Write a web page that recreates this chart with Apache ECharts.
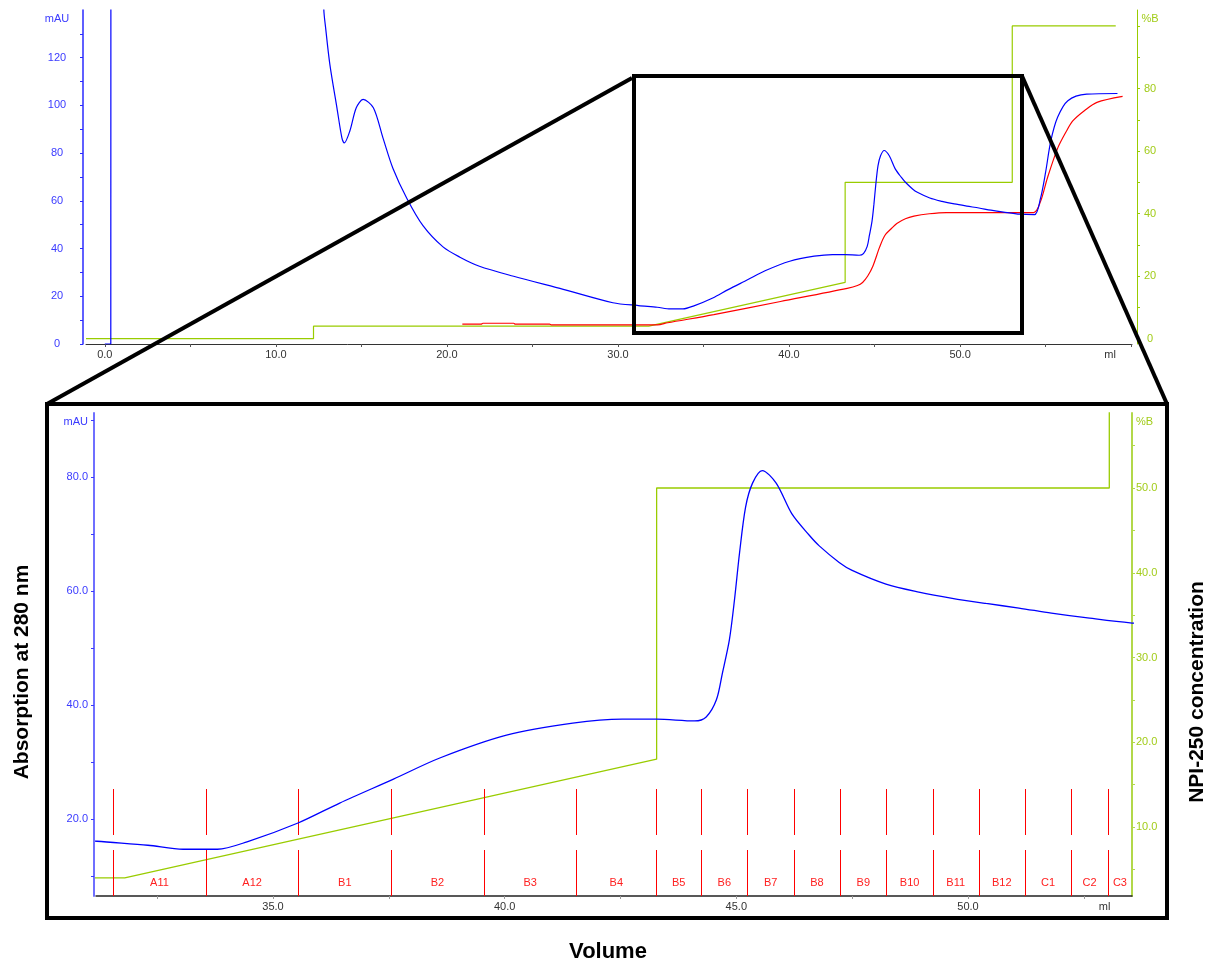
<!DOCTYPE html>
<html><head><meta charset="utf-8">
<script src="https://cdn.jsdelivr.net/npm/echarts@6/dist/echarts.min.js"></script>
<style>html,body{margin:0;padding:0;background:#fff}#c{width:1217px;height:964px}</style>
</head><body><div id="c"></div>
<script>
// UV absorbance at 280 nm (mAU) vs volume (ml)
const uvMl  = [0.0,0.35,0.45,12.7,12.8,12.92,13.16,13.57,13.86,14.0,14.33,14.7,15.1,15.7,16.26,16.84,17.66,18.6,19.77,20.76,21.9,23.9,26.8,29.7,31.2,32.3,33.06,33.8,34.44,35.54,36.44,37.6,38.6,40.04,41.47,42.54,43.28,44.1,44.35,44.57,44.7,44.85,44.96,45.07,45.2,45.35,45.56,45.86,46.2,46.57,46.79,47.22,47.5,48.23,48.94,49.66,50.39,51.1,51.8,52.54,53.5,54.35,54.7,55.0,55.3,55.7,56.3,57.4,59.2];
const uvMau = [0,0,3000,3000,141,131.8,117,99,86.4,84.3,89.4,99,102.5,99,86.4,73.7,61,49.6,40.7,36.4,32.6,28.4,22.9,17.3,16.1,15.4,14.7,14.7,16.0,19.3,22.8,27.0,30.7,34.7,36.8,37.5,37.5,37.2,37.9,40.9,45.6,51.4,58.4,66.7,74.7,78.9,81.1,78.9,73.5,69.8,67.9,65.0,63.6,61.2,59.8,58.7,57.8,57.0,56.1,55.3,54.4,54.2,61,72,85,95,102,104.7,105];
// Conductivity trace (drawn on mAU scale)
const condMl  = [20.9,22.0,22.1,23.9,24.0,26.0,26.1,32.3,32.9,35.6,39.5,43.4,44.0,44.3,44.6,44.9,45.3,45.6,46.0,46.3,46.8,47.3,48.2,49.2,54.3,54.7,55.1,55.7,56.2,56.6,57.3,58.0,59.5];
const condVal = [8.3,8.3,8.7,8.7,8.3,8.3,8.0,8.0,8.9,12.3,17.8,23.3,24.5,25.8,28.5,32.6,40.7,45.5,48.5,50.5,52.5,53.6,54.6,55.1,55.1,59.7,69.5,82,89,93.6,98,101.3,103.8];
// Gradient %B
const gradMl  = [-1.1,12.2,12.2,31.8,43.28,43.28,53.05,53.05,59.1];
const gradPct = [0,0,4,4,18,50,50,100,100];
// Fractions
const fracStart = [31.55,33.55,35.55,37.55,39.55,41.55,43.27,44.24,45.24,46.24,47.24,48.24,49.24,50.23,51.23,52.23,53.02];
const fracLabel = ['A11','A12','B1','B2','B3','B4','B5','B6','B7','B8','B9','B10','B11','B12','C1','C2','C3'];
// Tick / label values
const topXLabels = [0,10,20,30,40,50];
const topYLabels = [0,20,40,60,80,100,120];
const topRLabels = [0,20,40,60,80];
const botXLabels = [35,40,45,50];
const botYLabels = [20,40,60,80];
const botRLabels = [10,20,30,40,50];

const TX = [-1.1, 60.05], TY = [0, 140], TR = [-1.7, 105.1];
const BX = [31.18, 53.54], BY = [6.5, 91.2], BR = [1.86, 58.85];

const zip = (a, b) => a.map((v, i) => [v, b[i]]);
const range = (a, b, s) => { const r = []; for (let v = a; v <= b + 1e-9; v += s) r.push(+v.toFixed(3)); return r; };
const FONT = 'Liberation Sans, Arial, sans-serif';
const BLUE = '#0000ff', RED = '#ff0000', GREEN = '#99cc00';

const fracData = fracStart.map((s, i) => [s, i + 1 < fracStart.length ? fracStart[i + 1] : BX[1]]);

function renderFrac(params, api) {
  const cs = params.coordSys;
  const bottom = cs.y + cs.height;
  const p0 = api.coord([api.value(0), BY[0]]);
  const p1 = api.coord([api.value(1), BY[0]]);
  const x = Math.round(p0[0]) + 0.5;
  const mid = (p0[0] + p1[0]) / 2;
  return { type: 'group', children: [
    { type: 'line', shape: { x1: x, y1: bottom - 107, x2: x, y2: bottom - 61 }, style: { stroke: RED, lineWidth: 1 } },
    { type: 'line', shape: { x1: x, y1: bottom - 46, x2: x, y2: bottom }, style: { stroke: RED, lineWidth: 1 } },
    { type: 'text', x: mid, y: bottom - 13, style: { text: fracLabel[params.dataIndex], fill: '#ff2020', font: '11px ' + FONT, textAlign: 'center', textVerticalAlign: 'middle' } }
  ]};
}

const lineCommon = { showSymbol: false, symbol: 'none', smooth: 0.3 };

const chart = echarts.init(document.getElementById('c'), null, { renderer: 'canvas' });
chart.setOption({
  backgroundColor: '#fff',
  animation: false,
  grid: [
    { left: 86, right: 85, top: 10, bottom: 620 },
    { left: 96, right: 85, top: 413, bottom: 68 }
  ],
  xAxis: [
    { type: 'value', gridIndex: 0, min: TX[0], max: TX[1], splitLine: { show: false },
      axisLine: { onZero: false, lineStyle: { color: '#333', width: 1 } },
      axisTick: { customValues: range(0, 60, 5), length: 3, lineStyle: { color: '#555' } },
      axisLabel: { customValues: topXLabels.concat([58.77]), formatter: v => v > 55 ? 'ml' : v.toFixed(1), color: '#333', fontSize: 11, fontFamily: FONT, margin: 5 } },
    { type: 'value', gridIndex: 1, min: BX[0], max: BX[1], splitLine: { show: false },
      axisLine: { onZero: false, lineStyle: { color: '#222', width: 1.5 } },
      axisTick: { customValues: range(32.5, 52.5, 2.5), length: 3, lineStyle: { color: '#999' } },
      axisLabel: { customValues: botXLabels.concat([52.95]), formatter: v => v > 52 ? 'ml' : v.toFixed(1), color: '#333', fontSize: 11, fontFamily: FONT, margin: 5 } }
  ],
  yAxis: [
    { type: 'value', gridIndex: 0, min: TY[0], max: TY[1], offset: 3, splitLine: { show: false },
      axisLine: { show: true, onZero: false, lineStyle: { color: '#2a2aff', width: 1.5 } },
      axisTick: { customValues: range(0, 130, 10), length: 3, lineStyle: { color: '#2a2aff' } },
      axisLabel: { customValues: topYLabels.concat([136.2]), formatter: v => v > 130 ? 'mAU' : String(v), color: '#3a3aff', fontSize: 11, fontFamily: FONT, align: 'center', margin: 26 } },
    { type: 'value', gridIndex: 0, position: 'right', min: TR[0], max: TR[1], offset: 5, splitLine: { show: false },
      axisLine: { show: true, onZero: false, lineStyle: { color: GREEN, width: 1 } },
      axisTick: { customValues: range(0, 100, 10), length: 3, lineStyle: { color: GREEN } },
      axisLabel: { customValues: topRLabels.concat([102.2]), formatter: v => v > 100 ? '%B' : String(v), color: '#a2cc1a', fontSize: 11, fontFamily: FONT, align: 'center', margin: 13 } },
    { type: 'value', gridIndex: 1, min: BY[0], max: BY[1], offset: 2, splitLine: { show: false },
      axisLine: { show: true, onZero: false, lineStyle: { color: '#6f6fff', width: 2 } },
      axisTick: { customValues: range(10, 90, 10), length: 3, lineStyle: { color: '#3a3aff' } },
      axisLabel: { customValues: botYLabels.concat([89.6]), formatter: v => v > 85 ? 'mAU' : v.toFixed(1), color: '#3a3aff', fontSize: 11, fontFamily: FONT, margin: 6 } },
    { type: 'value', gridIndex: 1, position: 'right', min: BR[0], max: BR[1], splitLine: { show: false },
      axisLine: { show: true, onZero: false, lineStyle: { color: '#b2d84a', width: 2 } },
      axisTick: { customValues: range(5, 55, 5), length: 3, lineStyle: { color: '#b2d84a' } },
      axisLabel: { customValues: botRLabels.concat([57.8]), formatter: v => v > 55 ? '%B' : v.toFixed(1), color: '#a2cc1a', fontSize: 11, fontFamily: FONT, margin: 4 } }
  ],
  series: [
    { type: 'line', xAxisIndex: 0, yAxisIndex: 1, data: zip(gradMl, gradPct), showSymbol: false, symbol: 'none', lineStyle: { color: GREEN, width: 1.2 }, z: 2 },
    Object.assign({ type: 'line', xAxisIndex: 0, yAxisIndex: 0, data: zip(condMl, condVal), lineStyle: { color: RED, width: 1.2 }, z: 3 }, lineCommon),
    Object.assign({ type: 'line', xAxisIndex: 0, yAxisIndex: 0, data: zip(uvMl, uvMau), lineStyle: { color: BLUE, width: 1.2 }, z: 4 }, lineCommon),
    { type: 'line', xAxisIndex: 1, yAxisIndex: 3, data: zip(gradMl, gradPct), showSymbol: false, symbol: 'none', lineStyle: { color: GREEN, width: 1.3 }, z: 2 },
    Object.assign({ type: 'line', xAxisIndex: 1, yAxisIndex: 2, data: zip(uvMl, uvMau), lineStyle: { color: BLUE, width: 1.3 }, z: 4 }, lineCommon),
    { type: 'custom', xAxisIndex: 1, yAxisIndex: 2, data: fracData, renderItem: renderFrac, z: 3, clip: false }
  ],
  graphic: [
    { type: 'rect', shape: { x: 634, y: 76, width: 388, height: 257 }, style: { fill: 'none', stroke: '#000', lineWidth: 4 }, z: 100 },
    { type: 'rect', shape: { x: 47, y: 404, width: 1120, height: 514 }, style: { fill: 'none', stroke: '#000', lineWidth: 4 }, z: 100 },
    { type: 'line', shape: { x1: 632, y1: 78, x2: 47, y2: 404 }, style: { stroke: '#000', lineWidth: 4 }, z: 100 },
    { type: 'line', shape: { x1: 1022, y1: 76, x2: 1167, y2: 404 }, style: { stroke: '#000', lineWidth: 4 }, z: 100 },
    { type: 'text', x: 22, y: 672, rotation: Math.PI / 2, style: { text: 'Absorption at 280 nm', font: 'bold 21px ' + FONT, fill: '#000', textAlign: 'center', textVerticalAlign: 'middle' }, z: 100 },
    { type: 'text', x: 1197, y: 692, rotation: Math.PI / 2, style: { text: 'NPI-250 concentration', font: 'bold 21px ' + FONT, fill: '#000', textAlign: 'center', textVerticalAlign: 'middle' }, z: 100 },
    { type: 'text', x: 608, y: 952, style: { text: 'Volume', font: 'bold 22px ' + FONT, fill: '#000', textAlign: 'center', textVerticalAlign: 'middle' }, z: 100 }
  ]
});
</script></body></html>
